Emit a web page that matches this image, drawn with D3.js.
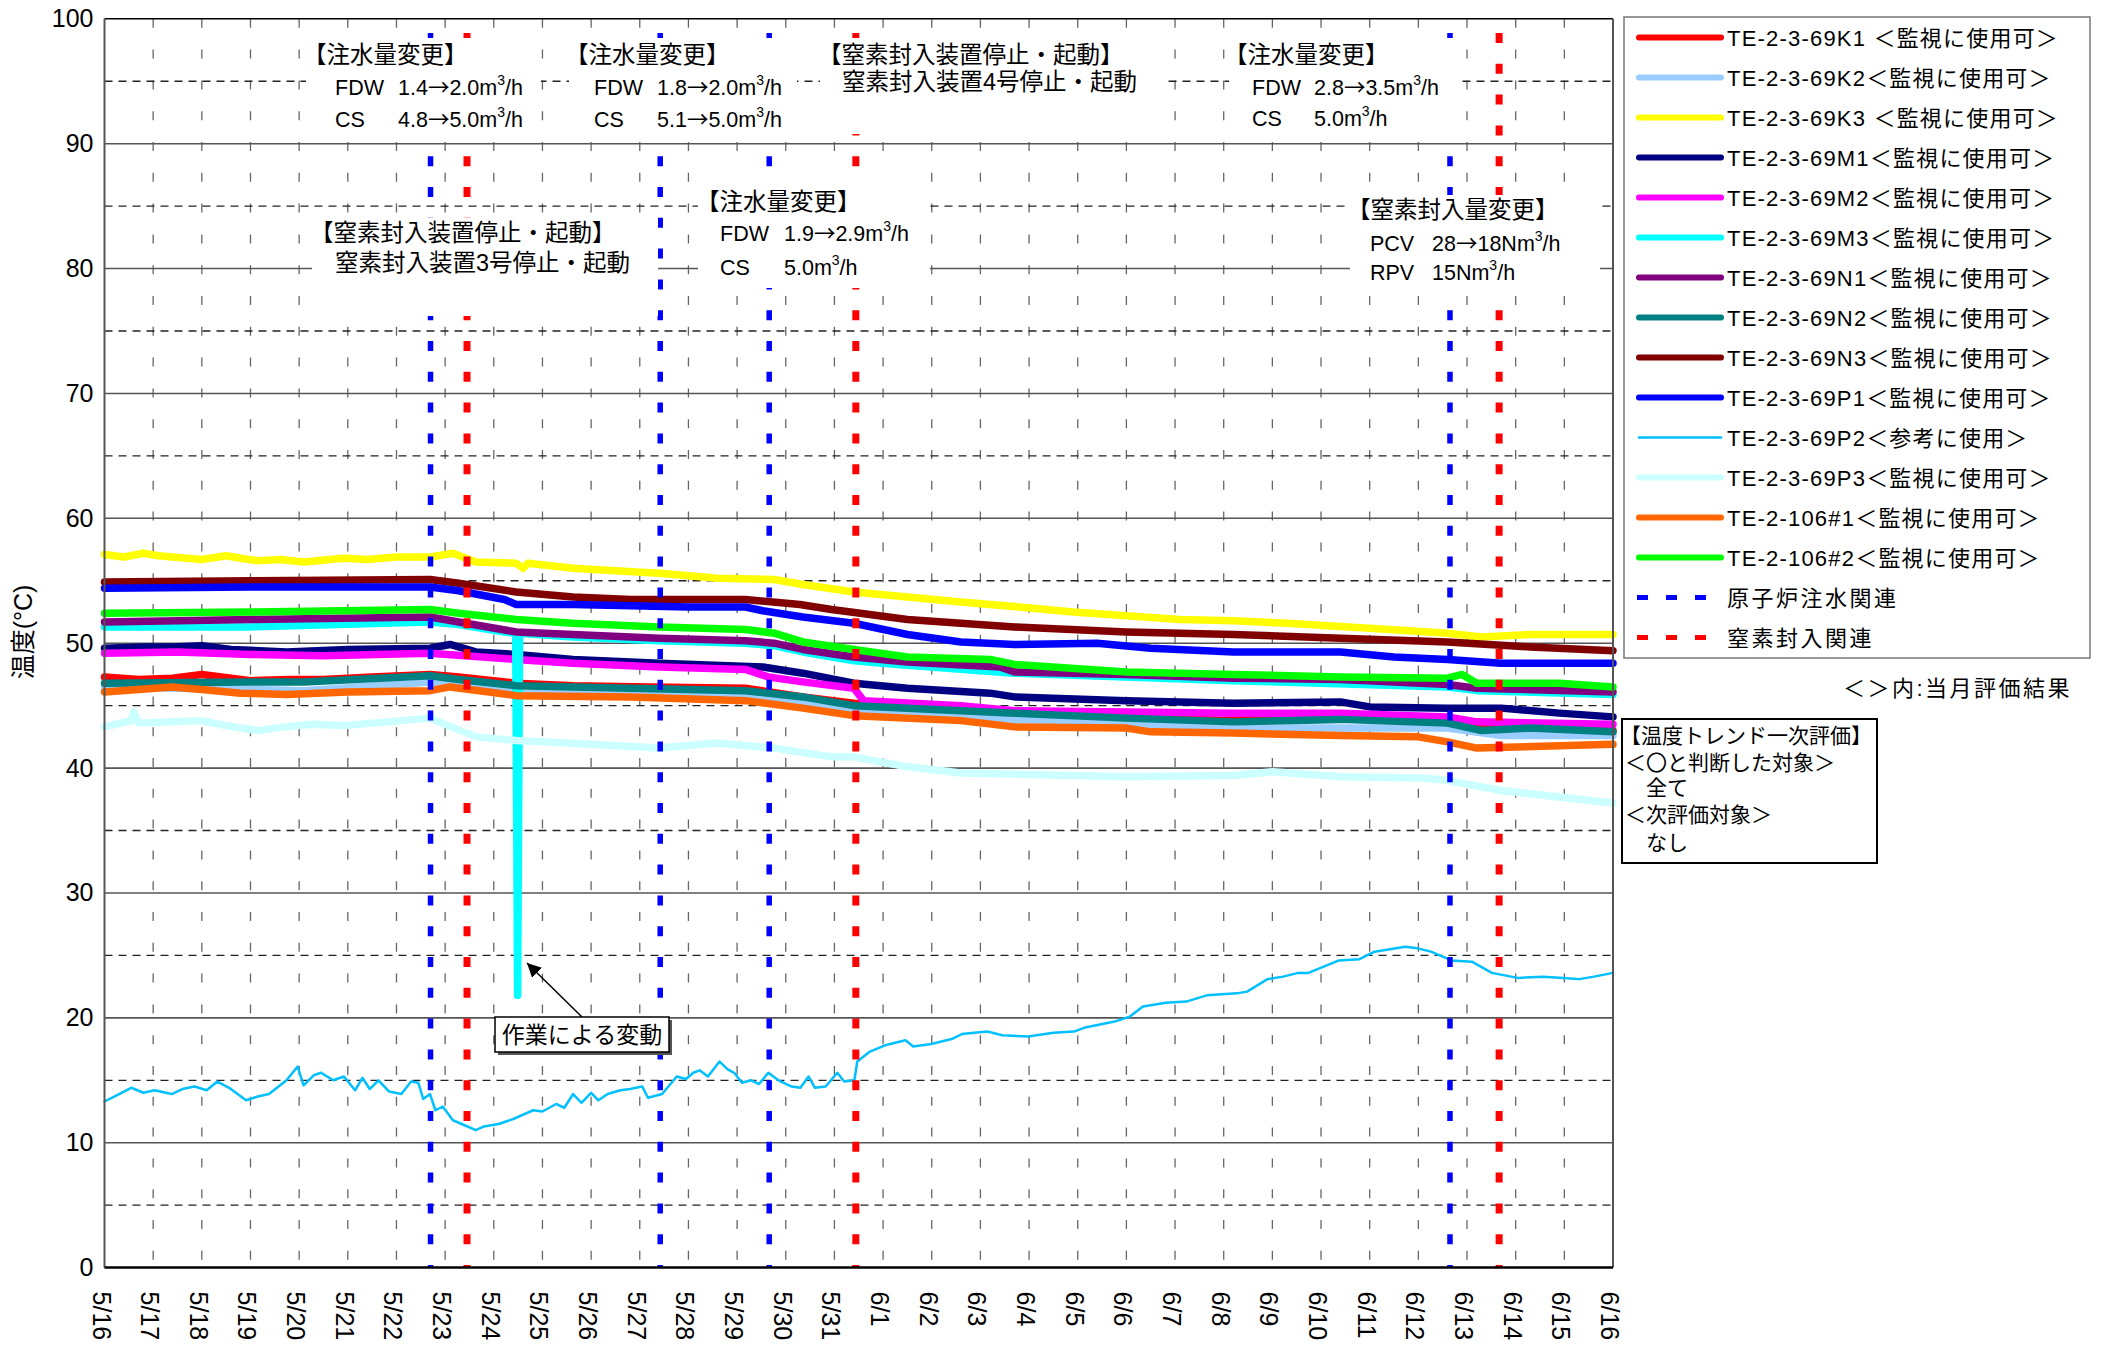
<!DOCTYPE html>
<html>
<head>
<meta charset="utf-8">
<script src="https://cdn.jsdelivr.net/npm/d3@7"></script>
<style>
body{margin:0;background:#fff;}
text{font-family:"Liberation Sans","Noto Sans CJK JP",sans-serif;}
</style>
</head>
<body>
<svg width="2101" height="1355"></svg>
<script>
// ---- data (t = days after 5/16 0:00, value = deg C) ----
const dayLabels = ['5/16','5/17','5/18','5/19','5/20','5/21','5/22','5/23','5/24','5/25','5/26','5/27','5/28','5/29','5/30','5/31',
  '6/1','6/2','6/3','6/4','6/5','6/6','6/7','6/8','6/9','6/10','6/11','6/12','6/13','6/14','6/15','6/16'];
const yTicks = [0,10,20,30,40,50,60,70,80,90,100];

const K1 = [[0,47.3],[0.7,47.1],[1.4,47.2],[2,47.5],[2.6,47.2],[3,47.0],[3.8,47.1],[4.5,47.1],[5.5,47.3],[6.69,47.5],[7.28,47.3],[8.46,46.8],[9.63,46.6],[11.2,46.5],[13.17,46.4],[14.35,45.7],[15.4,45.2],[16.5,44.8],[18.7,44.5],[21.0,44.1],[23.2,43.8],[25.4,44.0],[27.6,43.7],[28.3,43.2],[31,43.0]];
const K2 = [[0,46.5],[3,46.3],[4.1,46.2],[6.69,46.9],[7.28,46.7],[8.46,46.0],[11,45.9],[13.5,45.8],[14.35,45.2],[15.5,44.5],[18.7,43.9],[23.2,43.2],[27.6,43.2],[28.7,42.6],[31,42.6]];
const K3 = [[0,57.1],[0.4,56.9],[0.8,57.2],[1.1,57.0],[1.4,56.9],[2.0,56.7],[2.5,57.0],[2.8,56.8],[3.15,56.6],[3.6,56.7],[4.1,56.5],[4.9,56.8],[5.4,56.7],[6.0,56.9],[6.7,56.9],[7.16,57.2],[7.63,56.5],[8.46,56.4],[8.6,56.0],[8.7,56.4],[9.63,56.0],[10.5,55.8],[11.4,55.6],[12.6,55.2],[13.76,55.1],[14.35,54.7],[15.4,54.1],[16.5,53.7],[17.6,53.3],[18.8,52.9],[19.9,52.5],[21.0,52.2],[22.1,51.9],[23.2,51.8],[24.3,51.6],[26.0,51.2],[27.6,50.8],[28.3,50.5],[29.3,50.7],[31,50.7]];
const M1 = [[0,49.6],[0.8,49.7],[1.4,49.7],[2,49.8],[2.6,49.5],[3.74,49.3],[5,49.5],[6.69,49.6],[7.1,49.9],[7.63,49.3],[8.46,49.1],[9.63,48.7],[11.4,48.4],[13.53,48.1],[14.35,47.6],[15.4,46.8],[16.5,46.4],[18.2,46.0],[18.7,45.7],[21.0,45.4],[23.2,45.2],[25.4,45.3],[26.0,44.9],[27.6,44.8],[28.7,44.8],[29.9,44.4],[31,44.1]];
const M2 = [[0,49.2],[1.5,49.3],[3,49.1],[4.5,49.0],[6.69,49.2],[8.46,48.7],[9.63,48.4],[11.4,48.1],[13.17,47.9],[13.64,47.3],[14.35,46.9],[15.4,46.4],[15.6,45.4],[17.6,45.0],[18.7,44.6],[21.0,44.5],[23.2,44.4],[25.4,44.4],[27.6,44.1],[28.2,43.7],[31,43.5]];
const M3 = [[0,51.3],[3,51.3],[6.69,51.7],[7.28,51.5],[8.22,50.9],[8.45,50.8],[8.49,21.8],[8.53,50.8],[9.63,50.5],[11.4,50.2],[13.17,50.0],[13.76,49.8],[14.35,49.3],[15.4,48.6],[16.3,48.3],[18.7,47.6],[23.2,47.0],[27.6,46.5],[28.2,46.2],[31,45.9]];
const N1 = [[0,51.7],[3,51.9],[6.69,52.1],[7.28,51.7],[8.46,50.9],[9.63,50.7],[11.4,50.4],[13.17,50.2],[13.76,50.0],[14.35,49.5],[15.4,48.9],[16.5,48.5],[18.4,48.1],[18.7,47.7],[21.0,47.5],[23.2,47.2],[25.4,47.1],[27.6,46.7],[28.2,46.4],[31,46.1]];
const N2 = [[0,46.8],[3,46.9],[4.1,46.9],[6.69,47.4],[7.28,47.1],[8.46,46.6],[13.17,46.2],[14.35,45.7],[15.4,45.0],[17.6,44.6],[18.7,44.4],[21.0,44.0],[23.2,43.7],[25.4,43.9],[27.6,43.6],[28.3,43.0],[29.3,43.2],[31,42.9]];
const N3 = [[0,54.9],[3,55.0],[6.69,55.1],[7.28,54.8],[8.46,54.1],[9.63,53.7],[10.81,53.5],[13.17,53.5],[14.29,53.1],[14.94,52.7],[15.53,52.4],[16.5,51.9],[18.7,51.3],[21.0,50.9],[23.2,50.7],[25.4,50.4],[27.6,50.1],[29.3,49.7],[31,49.4]];
const P1 = [[0,54.4],[3,54.5],[6.69,54.5],[7.28,54.2],[8.22,53.5],[8.46,53.1],[9.63,53.1],[11.99,52.9],[13.17,52.9],[13.53,52.6],[14.35,52.1],[15.4,51.6],[16.5,50.7],[17.6,50.1],[18.7,49.9],[20.4,50.0],[21.5,49.6],[23.2,49.3],[25.4,49.3],[26.5,48.9],[27.6,48.7],[28.7,48.4],[31,48.4]];
const P2 = [[0,13.3],[0.2,13.7],[0.55,14.4],[0.8,14.0],[1.03,14.2],[1.38,13.9],[1.6,14.3],[1.85,14.5],[2.1,14.2],[2.32,14.9],[2.56,14.4],[2.91,13.4],[3.15,13.7],[3.38,13.9],[3.74,15.0],[3.97,16.1],[4.09,14.6],[4.3,15.4],[4.45,15.6],[4.7,15.0],[4.92,15.3],[5.15,14.2],[5.3,15.2],[5.45,14.3],[5.63,15.0],[5.85,14.1],[6.1,13.9],[6.3,14.9],[6.45,14.8],[6.55,13.5],[6.69,13.9],[6.8,12.6],[6.95,12.9],[7.16,11.8],[7.4,11.4],[7.63,11.0],[7.8,11.3],[8.1,11.5],[8.4,11.9],[8.81,12.6],[9.0,12.5],[9.28,13.1],[9.45,12.8],[9.63,13.9],[9.8,13.2],[10.0,14.0],[10.15,13.4],[10.34,13.9],[10.6,14.2],[10.8,14.3],[11.05,14.5],[11.17,13.6],[11.46,13.9],[11.76,15.3],[11.95,15.1],[12.1,15.6],[12.23,15.8],[12.4,15.3],[12.64,16.5],[12.8,15.9],[12.94,15.6],[13.1,14.8],[13.29,15.0],[13.45,14.7],[13.64,15.6],[13.85,15.0],[14.12,14.5],[14.3,14.4],[14.47,15.3],[14.6,14.4],[14.82,14.5],[15.06,15.6],[15.2,14.9],[15.41,15.0],[15.47,16.5],[15.73,17.3],[16.04,17.8],[16.46,18.2],[16.62,17.7],[16.99,17.9],[17.41,18.3],[17.62,18.7],[18.14,18.9],[18.45,18.6],[18.98,18.5],[19.5,18.8],[19.92,18.9],[20.13,19.2],[20.76,19.7],[21.07,20.1],[21.34,20.9],[21.81,21.2],[22.23,21.3],[22.65,21.8],[23.27,21.96],[23.48,22.1],[23.9,23.1],[24.22,23.3],[24.53,23.6],[24.74,23.6],[25.37,24.6],[25.79,24.7],[26.1,25.3],[26.73,25.7],[26.94,25.6],[27.26,25.3],[27.68,24.6],[28.1,24.5],[28.51,23.6],[29.04,23.2],[29.56,23.3],[29.98,23.2],[30.3,23.1],[30.61,23.3],[31,23.6]];
const P3 = [[0,43.3],[0.55,43.8],[0.6,44.5],[0.7,43.6],[1.97,43.8],[2.5,43.4],[3.15,43.0],[3.5,43.2],[4.2,43.5],[4.92,43.4],[6.69,44.0],[7.63,42.5],[8.46,42.2],[9.5,42.0],[11.4,41.6],[12.58,42.0],[13.76,41.6],[14.94,40.9],[15.4,40.9],[16.5,40.1],[17.6,39.6],[21.0,39.3],[23.2,39.4],[24.0,39.7],[25.4,39.3],[27.1,39.2],[27.6,39.0],[28.7,38.2],[31,37.2]];
const T106_1 = [[0,46.1],[0.7,46.3],[1.38,46.5],[2,46.3],[2.8,46.0],[3.74,45.9],[5,46.1],[6.69,46.2],[7.1,46.5],[8.46,45.8],[10.81,45.7],[13.17,45.4],[14.35,44.8],[15.4,44.2],[17.6,43.8],[18.7,43.3],[21.0,43.2],[21.5,42.9],[23.2,42.8],[25.4,42.6],[27.0,42.5],[27.6,42.1],[28.2,41.6],[31,41.9]];
const T106_2 = [[0,52.4],[3,52.5],[6.69,52.7],[7.28,52.4],[8.46,51.9],[9.63,51.6],[11.4,51.3],[13.17,51.1],[13.76,50.8],[14.35,50.1],[15.4,49.5],[16.5,48.9],[18.2,48.7],[18.7,48.3],[21.0,47.7],[23.2,47.5],[25.4,47.3],[27.6,47.2],[27.9,47.5],[28.2,46.8],[29.9,46.8],[31,46.5]];

const seriesNames = ['TE-2-3-69K1 ＜監視に使用可＞','TE-2-3-69K2＜監視に使用可＞','TE-2-3-69K3 ＜監視に使用可＞','TE-2-3-69M1＜監視に使用可＞',
  'TE-2-3-69M2＜監視に使用可＞','TE-2-3-69M3＜監視に使用可＞','TE-2-3-69N1＜監視に使用可＞','TE-2-3-69N2＜監視に使用可＞',
  'TE-2-3-69N3＜監視に使用可＞','TE-2-3-69P1＜監視に使用可＞','TE-2-3-69P2＜参考に使用＞','TE-2-3-69P3＜監視に使用可＞',
  'TE-2-106#1＜監視に使用可＞','TE-2-106#2＜監視に使用可＞'];
const seriesValues = [K1,K2,K3,M1,M2,M3,N1,N2,N3,P1,P2,P3,T106_1,T106_2];
const seriesColors = ['#ff0000','#99ccff','#ffff00','#000080','#ff00ff','#00ffff','#800080','#008080','#800000','#0000ff','#00c0ff','#ccffff','#ff6600','#00ff00'];

const waterEvents = [6.70, 11.42, 13.66, 27.65];     // 原子炉注水関連
const nitrogenEvents = [7.45, 15.44, 28.66];          // 窒素封入関連
const eventNames = ['原子炉注水関連','窒素封入関連'];

// ---- chart ----
const svg = d3.select('svg');
const width = +svg.attr('width');
const height = +svg.attr('height');
svg.append('rect').attr('width',width).attr('height',height).attr('fill','#fff');

const margin = {top:18.8, left:104.5, right:width-1613, bottom:height-1267.6};
const plotR = width - margin.right, plotB = height - margin.bottom;

const xScale = d3.scaleLinear().domain([0,31]).range([margin.left, plotR]);
const yScale = d3.scaleLinear().domain([0,100]).range([plotB, margin.top]);

// grid
const grid = svg.append('g');
grid.selectAll('.vg').data(d3.range(1,31)).enter().append('line')
  .attr('x1',d=>xScale(d)).attr('x2',d=>xScale(d))
  .attr('y1',margin.top).attr('y2',plotB)
  .attr('stroke','#666').attr('stroke-width',1.3).attr('stroke-dasharray','9,21.8');
grid.selectAll('.hmin').data(d3.range(5,100,10)).enter().append('line')
  .attr('x1',margin.left).attr('x2',plotR)
  .attr('y1',d=>yScale(d)).attr('y2',d=>yScale(d))
  .attr('stroke','#222').attr('stroke-width',1.3).attr('stroke-dasharray','8,6');
grid.selectAll('.hmaj').data(d3.range(10,100,10)).enter().append('line')
  .attr('x1',margin.left).attr('x2',plotR)
  .attr('y1',d=>yScale(d)).attr('y2',d=>yScale(d))
  .attr('stroke','#555').attr('stroke-width',1.6);

// series
const line = d3.line().x(d=>xScale(d[0])).y(d=>yScale(d[1]));
const gSeries = svg.append('g');
seriesValues.forEach((vals,i)=>{
  gSeries.append('path').datum(vals)
    .attr('d',line)
    .attr('fill','none')
    .attr('stroke',seriesColors[i])
    .attr('stroke-width', i===10 ? 2.5 : 7.5)
    .attr('stroke-linejoin','round')
    .attr('stroke-linecap','round');
});

// event lines
const gEv = svg.append('g');
const evTop = 33;
gEv.selectAll('.we').data(waterEvents).enter().append('line')
  .attr('x1',d=>xScale(d)).attr('x2',d=>xScale(d))
  .attr('y1',evTop).attr('y2',plotB)
  .attr('stroke','#0000ff').attr('stroke-width',5.5).attr('stroke-dasharray','10,20.8');
gEv.selectAll('.ne').data(nitrogenEvents).enter().append('line')
  .attr('x1',d=>xScale(d)).attr('x2',d=>xScale(d))
  .attr('y1',evTop).attr('y2',plotB)
  .attr('stroke','#ff0000').attr('stroke-width',7).attr('stroke-dasharray','10,20.8');

// annotation text boxes
const notes = [
  {box:[306,38,541,140], lines:[
    {y:55,jp:1,segs:[{x:303,t:'【注水量変更】'}]},
    {y:87,segs:[{x:335,t:'FDW'},{x:398,t:'1.4→2.0m'},{t:'3',sup:1},{t:'/h'}]},
    {y:119,segs:[{x:335,t:'CS'},{x:398,t:'4.8→5.0m'},{t:'3',sup:1},{t:'/h'}]}]},
  {box:[569,38,797,140], lines:[
    {y:55,jp:1,segs:[{x:565,t:'【注水量変更】'}]},
    {y:87,segs:[{x:594,t:'FDW'},{x:657,t:'1.8→2.0m'},{t:'3',sup:1},{t:'/h'}]},
    {y:119,segs:[{x:594,t:'CS'},{x:657,t:'5.1→5.0m'},{t:'3',sup:1},{t:'/h'}]}]},
  {box:[820,38,1165,134], lines:[
    {y:55,jp:1,segs:[{x:818,t:'【窒素封入装置停止・起動】'}]},
    {y:82,jp:1,segs:[{x:842,t:'窒素封入装置4号停止・起動'}]}]},
  {box:[1229,38,1460,140], lines:[
    {y:55,jp:1,segs:[{x:1224,t:'【注水量変更】'}]},
    {y:87,segs:[{x:1252,t:'FDW'},{x:1314,t:'2.8→3.5m'},{t:'3',sup:1},{t:'/h'}]},
    {y:118,segs:[{x:1252,t:'CS'},{x:1314,t:'5.0m'},{t:'3',sup:1},{t:'/h'}]}]},
  {box:[312,218,658,316], lines:[
    {y:233,jp:1,segs:[{x:310,t:'【窒素封入装置停止・起動】'}]},
    {y:263,jp:1,segs:[{x:335,t:'窒素封入装置3号停止・起動'}]}]},
  {box:[698,172,930,288], lines:[
    {y:202,jp:1,segs:[{x:696,t:'【注水量変更】'}]},
    {y:233,segs:[{x:720,t:'FDW'},{x:784,t:'1.9→2.9m'},{t:'3',sup:1},{t:'/h'}]},
    {y:267,segs:[{x:720,t:'CS'},{x:784,t:'5.0m'},{t:'3',sup:1},{t:'/h'}]}]},
  {box:[1350,195,1600,292], lines:[
    {y:210,jp:1,segs:[{x:1347,t:'【窒素封入量変更】'}]},
    {y:243,segs:[{x:1370,t:'PCV'},{x:1432,t:'28→18Nm'},{t:'3',sup:1},{t:'/h'}]},
    {y:272,segs:[{x:1370,t:'RPV'},{x:1432,t:'15Nm'},{t:'3',sup:1},{t:'/h'}]}]}
];
const gNotes = svg.append('g');
notes.forEach(n=>{
  const b = n.box;
  gNotes.append('rect').attr('x',b[0]).attr('y',b[1]).attr('width',b[2]-b[0]).attr('height',b[3]-b[1]).attr('fill','#fff');
  n.lines.forEach(l=>{
    const t = gNotes.append('text').attr('y',l.y+8).attr('font-size',l.jp?23.5:21.5).attr('fill','#000');
    let raised = false;
    l.segs.forEach(s=>{
      // split around arrows so the arrow uses the wide CJK glyph
      const parts = s.t.split(/(→)/).filter(p=>p.length);
      parts.forEach((p,k)=>{
        const ts = t.append('tspan').text(p);
        if (k===0 && s.x !== undefined) ts.attr('x',s.x);
        if (p==='→') ts.style('font-family','"Noto Sans CJK JP",sans-serif');
        if (s.sup) { ts.attr('font-size',14).attr('dy',-10); raised = true; }
        else if (raised) { ts.attr('dy',10); raised = false; }
      });
    });
  });
});

// frame
svg.append('line').attr('x1',margin.left).attr('x2',plotR).attr('y1',margin.top).attr('y2',margin.top).attr('stroke','#000').attr('stroke-width',1.5);
svg.append('line').attr('x1',plotR).attr('x2',plotR).attr('y1',margin.top).attr('y2',plotB).attr('stroke','#555').attr('stroke-width',2);
svg.append('line').attr('x1',margin.left).attr('x2',margin.left).attr('y1',margin.top).attr('y2',plotB).attr('stroke','#555').attr('stroke-width',2);
svg.append('line').attr('x1',margin.left).attr('x2',plotR).attr('y1',plotB).attr('y2',plotB).attr('stroke','#000').attr('stroke-width',2.5);

// y axis
const yAxis = svg.append('g').attr('transform',`translate(${margin.left},0)`)
  .call(d3.axisLeft(yScale).tickValues(yTicks).tickSize(0).tickPadding(11));
yAxis.select('.domain').remove();
yAxis.selectAll('text').attr('font-size',25).attr('fill','#000')
  .style('font-family','"Liberation Sans",sans-serif');

svg.append('text').attr('transform','translate(32,632) rotate(-90)')
  .attr('text-anchor','middle').attr('font-size',25).text('温度(°C)');

// x labels (rotated)
svg.append('g').selectAll('text').data(dayLabels).enter().append('text')
  .attr('transform',(d,i)=>`translate(${xScale(i)-3},${plotB+24}) rotate(90)`)
  .attr('text-anchor','start').attr('dominant-baseline','central')
  .attr('font-size',25).text(d=>d);

// arrow annotation
svg.append('defs').append('marker').attr('id','ah')
  .attr('viewBox','0 0 10 10').attr('refX',10).attr('refY',5)
  .attr('markerWidth',14).attr('markerHeight',14).attr('markerUnits','userSpaceOnUse')
  .attr('orient','auto')
  .append('path').attr('d','M0,0 L10,5 L0,10 z').attr('fill','#000');
svg.append('line').attr('x1',582).attr('y1',1017).attr('x2',527).attr('y2',963)
  .attr('stroke','#000').attr('stroke-width',1.5).attr('marker-end','url(#ah)');
svg.append('rect').attr('x',498).attr('y',1020).attr('width',174).attr('height',35).attr('fill','#555');
svg.append('rect').attr('x',495).attr('y',1017).attr('width',174).attr('height',35)
  .attr('fill','#fff').attr('stroke','#000').attr('stroke-width',1.5);
svg.append('text').attr('x',582).attr('y',1043).attr('text-anchor','middle').attr('font-size',23).text('作業による変動');

// legend
const lg = svg.append('g');
lg.append('rect').attr('x',1624).attr('y',17).attr('width',466).attr('height',641)
  .attr('fill','#fff').attr('stroke','#777').attr('stroke-width',1.5);
const rowY = i => 37.5 + i*40;
seriesNames.forEach((name,i)=>{
  lg.append('line').attr('x1',1639).attr('x2',1721).attr('y1',rowY(i)).attr('y2',rowY(i))
    .attr('stroke',seriesColors[i]).attr('stroke-width',i===10?2.5:6).attr('stroke-linecap','round');
  lg.append('text').attr('x',1727).attr('y',rowY(i)+8).attr('font-size',22)
    .attr('letter-spacing',1.2).text(name);
});
eventNames.forEach((name,j)=>{
  const i = seriesNames.length + j;
  lg.append('line').attr('x1',1637).attr('x2',1707).attr('y1',rowY(i)).attr('y2',rowY(i))
    .attr('stroke',j===0?'#0000ff':'#ff0000').attr('stroke-width',5).attr('stroke-dasharray','11,18');
  lg.append('text').attr('x',1727).attr('y',rowY(i)+8).attr('font-size',22)
    .attr('letter-spacing',2.5).text(name);
});
svg.append('text').attr('x',1843).attr('y',696).attr('font-size',22).attr('letter-spacing',2.5).text('＜＞内:当月評価結果');

// evaluation box
const evalLines = ['【温度トレンド一次評価】','＜〇と判断した対象＞','　全て','＜次評価対象＞','　なし'];
const evY = [736,763,788,815,843];
svg.append('rect').attr('x',1622).attr('y',719).attr('width',255).attr('height',144)
  .attr('fill','#fff').attr('stroke','#000').attr('stroke-width',2);
evalLines.forEach((t,i)=>{
  svg.append('text').attr('x',i===0?1620:1625).attr('y',evY[i]+7).attr('font-size',21).text(t);
});
</script>
</body>
</html>
